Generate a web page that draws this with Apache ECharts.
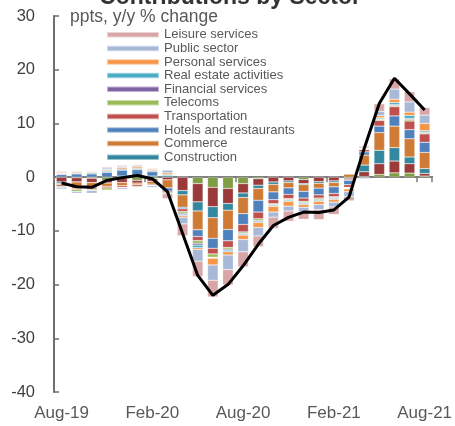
<!DOCTYPE html>
<html>
<head>
<meta charset="utf-8">
<script src="https://cdn.jsdelivr.net/npm/echarts@6/dist/echarts.min.js"></script>
<style>html,body{margin:0;padding:0;background:#fff;}#c{width:455px;height:426px;}</style>
</head>
<body>
<div id="c"></div>
<script>
const categories = ['Aug-19','Sep-19','Oct-19','Nov-19','Dec-19','Jan-20','Feb-20','Mar-20','Apr-20','May-20','Jun-20','Jul-20','Aug-20','Sep-20','Oct-20','Nov-20','Dec-20','Jan-21','Feb-21','Mar-21','Apr-21','May-21','Jun-21','Jul-21','Aug-21'];
const yTicks = [-40, -30, -20, -10, 0, 10, 20, 30];

// unlabelled sectors (not in legend)
const otherA = [0, -0.1, -0.2, -0.6, -0.3, -0.6, -0.3, 0, 0, -1.2, -1.9, -2.1, -1.2, -0.3, 0, 0, -0.45, 0, 0, -0.2, 0.1, 0.5, 0.8, 0.75, 0.2];
const otherB = [-0.9, -0.8, -0.8, -0.5, -0.7, -0.5, -0.5, -0.5, -2.5, -3.4, -3.6, -2.8, -1.75, -1.2, -0.9, -0.7, -0.75, -0.85, -0.7, -0.3, 0.9, 2.0, 2.2, 1.75, 0.5];
const construction = [-0.3, 0, 0, 0, 0.2, 0.2, 0.2, 0.3, -0.8, -1.7, -2.05, -1.25, -0.85, -0.6, -0.45, -0.3, -0.2, -0.3, -0.3, -0.1, 1.25, 2.5, 2.5, 1.25, 0.9];
const commerce = [-0.2, -1.2, -1.0, -0.6, -0.6, -0.3, -0.5, -1.5, -2.3, -3.5, -3.85, -3.6, -3.0, -2.2, -1.4, -1.0, -1.25, -0.9, -0.8, 0.55, 1.85, 3.3, 4.0, 3.4, 3.0];
const hotels = [0.5, 0.6, 0.6, 0.9, 1.1, 1.2, 0.8, -0.6, -0.3, -1.25, -1.85, -2.1, -2.0, -2.2, -1.45, -1.2, -1.25, -1.25, -1.25, -0.8, 0.6, 1.2, 1.9, 1.7, 1.9];
const transportation = [-0.3, -0.2, -0.3, -0.3, -0.3, -0.3, -0.2, -0.3, -0.5, -0.75, -1.05, -1.25, -1.4, -1.25, -0.75, -0.8, -0.6, -0.6, -0.6, -0.5, 0.45, 1.05, 1.7, 1.6, 1.55];
const telecoms = [-0.2, -0.4, -0.2, -0.4, -0.1, -0.2, -0.1, -0.2, -0.3, -0.5, -0.6, -0.3, -0.25, -0.3, -0.2, -0.2, -0.25, -0.25, -0.2, -0.1, 0.05, 0.2, 0.25, 0.3, 0.2];
const financial = [0.1, 0, 0, 0.1, -0.2, 0, 0, 0, -0.2, -0.35, -0.1, -0.2, -0.15, -0.15, -0.1, -0.1, -0.15, -0.15, -0.1, -0.1, 0.05, 0.1, 0.15, 0.2, 0.15];
const realEstate = [0.1, 0.15, 0.2, 0.2, 0.2, 0.2, 0.2, 0.2, -0.25, -0.5, -0.1, -0.3, -0.2, -0.25, -0.2, -0.2, -0.2, -0.2, -0.2, -0.1, 0.1, 0.2, 0.4, 0.55, 0.25];
const personal = [0.15, 0.2, 0.15, 0.2, 0.3, 0.3, 0.2, 0.3, -0.3, -0.3, -1.25, -0.6, -0.8, -0.9, -1.05, -0.9, -0.5, -0.6, -0.5, -0.5, 0.1, 0.4, 0.6, 0.6, 1.35];
const publicSector = [-0.3, -0.3, -0.5, 0.3, 0.2, 0.2, -0.3, 0.5, -1.25, -2.2, -2.85, -2.7, -2.3, -1.6, -0.95, -0.9, -0.85, -0.95, -0.9, -0.9, -0.3, 0.8, 1.9, 1.9, 1.55];
const leisure = [0.2, 0.15, 0.15, 0.2, 0.2, 0.2, 0.2, -0.9, -2.2, -2.85, -3.1, -2.9, -2.8, -2.0, -2.1, -1.9, -1.4, -1.85, -1.4, -0.8, 0.3, 1.4, 1.9, 1.9, 1.4];
const total = [-1.1, -1.8, -1.9, -0.6, -0.1, 0.3, -0.3, -2.7, -10.5, -18.3, -22.0, -20.0, -16.5, -12.5, -9.0, -7.5, -6.5, -6.6, -6.1, -3.7, 5.3, 13.7, 18.4, 15.5, 12.5];

const legendNames = ['Leisure services','Public sector','Personal services','Real estate activities','Financial services','Telecoms','Transportation','Hotels and restaurants','Commerce','Construction'];

const stackDefs = [
  ['Other A', otherA, '#7E9D45'],
  ['Other B', otherB, '#9B3A3A'],
  ['Construction', construction, '#33879E'],
  ['Commerce', commerce, '#CF7B35'],
  ['Hotels and restaurants', hotels, '#4F81BD'],
  ['Transportation', transportation, '#C0504D'],
  ['Telecoms', telecoms, '#9BBB59'],
  ['Financial services', financial, '#8064A2'],
  ['Real estate activities', realEstate, '#4BACC6'],
  ['Personal services', personal, '#F79646'],
  ['Public sector', publicSector, '#A8B9D8'],
  ['Leisure services', leisure, '#D9A6A8']
];

const series = stackDefs.map(d => ({
  name: d[0], type: 'bar', stack: 'total', data: d[1],
  xAxisIndex: 0, yAxisIndex: 0,
  barCategoryGap: '30%',
  itemStyle: { color: d[2], borderColor: 'rgba(255,255,255,0.5)', borderWidth: 0.5 },
  emphasis: { disabled: true },
  z: 2
}));
series.push({
  name: 'Total', type: 'line', data: total, xAxisIndex: 0, yAxisIndex: 0,
  symbol: 'none', lineStyle: { color: '#000', width: 3 }, z: 5,
  emphasis: { disabled: true }
});

const chart = echarts.init(document.getElementById('c'), null, { renderer: 'canvas' });
chart.setOption({
  animation: false,
  backgroundColor: '#fff',
  grid: { left: 54, right: 19, top: 16, bottom: 34, containLabel: false },
  graphic: [
    { type: 'text', x: 230, y: 9, style: { text: 'Contributions by Sector', fontSize: 23, fontWeight: 'bold', fontFamily: 'Arial, Liberation Sans', fill: '#333', align: 'center', verticalAlign: 'bottom' } },
    { type: 'text', x: 70, y: 17, style: { text: 'ppts, y/y % change', fontSize: 17.5, fontFamily: 'Arial, Liberation Sans', fill: '#595959', align: 'left', verticalAlign: 'middle' } }
  ],
  legend: {
    data: legendNames, orient: 'vertical', left: 106, top: 28, padding: 0,
    itemWidth: 52, itemHeight: 5.5, itemGap: 0, icon: 'rect', selectedMode: false,
    textStyle: { fontSize: 13, lineHeight: 13.6, color: '#595959', fontFamily: 'Arial, Liberation Sans' }
  },
  xAxis: [
    {
      type: 'category', data: categories, position: 'bottom',
      axisLine: { show: false, onZero: false }, axisTick: { show: false },
      axisLabel: { interval: 5, fontSize: 17, color: '#595959', margin: 13, fontFamily: 'Arial, Liberation Sans' },
      splitLine: { show: false }
    },
    {
      type: 'category', data: categories, position: 'top',
      axisLine: { show: true, onZero: true, lineStyle: { color: '#7f7f7f', width: 2 } },
      axisTick: { show: true, inside: true, length: 5, interval: 5, lineStyle: { color: '#7f7f7f', width: 1.5 } },
      axisLabel: { show: false }, splitLine: { show: false }
    }
  ],
  yAxis: {
    type: 'value', min: yTicks[0], max: yTicks[yTicks.length - 1], interval: 10,
    axisLine: { show: true, lineStyle: { color: '#6e6e6e', width: 2 } },
    axisTick: { show: true, inside: true, length: 5, lineStyle: { color: '#6e6e6e', width: 1.5 } },
    axisLabel: { fontSize: 16.5, color: '#404040', margin: 19, fontFamily: 'Arial, Liberation Sans' },
    splitLine: { show: false }
  },
  series: series
});
</script>
</body>
</html>
